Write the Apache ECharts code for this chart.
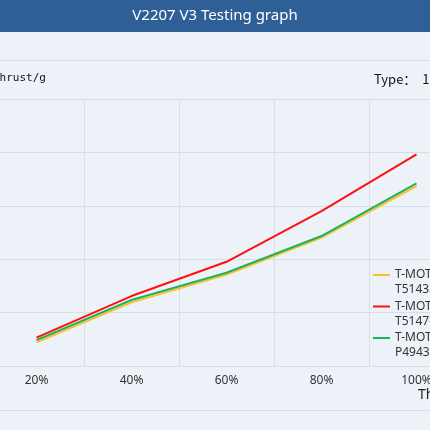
<!DOCTYPE html>
<html>
<head>
<meta charset="utf-8">
<script src="https://cdn.jsdelivr.net/npm/echarts@6/dist/echarts.min.js"></script>
<style>
html,body{margin:0;padding:0;width:430px;height:430px;overflow:hidden;background:#edf1f8;}
#wrap{position:relative;width:430px;height:430px;overflow:hidden;}
#chart{position:absolute;left:-50px;top:0;width:600px;height:430px;}
</style>
</head>
<body>
<div id="wrap"><div id="chart"></div></div>
<script>
var throttle = ['20%', '40%', '60%', '80%', '100%'];
var seriesNames = [
  'T-MOTOR V2207 V3 KV1750\nT5143S-3',
  'T-MOTOR V2207 V3 KV1750\nT5147-3',
  'T-MOTOR V2207 V3 KV1750\nP49436'
];
var thrustT5143S = [222, 596, 856, 1203, 1685];
var thrustT5147 = [265, 655, 976, 1451, 1982];
var thrustP49436 = [243, 618, 873, 1217, 1710];
var yTicks = [0, 500, 1000, 1500, 2000, 2500];

var OFF = 50;
var gridColor = '#d9dde5';
var chart = echarts.init(document.getElementById('chart'));
chart.setOption({
  backgroundColor: '#edf1f8',
  animation: false,
  graphic: [
    {type: 'rect', shape: {x: 0, y: 0, width: 600, height: 32}, style: {fill: '#2f5f97'}, silent: true},
    {type: 'text', x: 215 + OFF, y: 16, style: {text: 'V2207 V3 Testing graph', fill: '#ffffff', font: '15px "Noto Sans", sans-serif', align: 'center', verticalAlign: 'middle'}},
    {type: 'line', shape: {x1: 0, y1: 60.5, x2: 600, y2: 60.5}, style: {stroke: gridColor, lineWidth: 1}, silent: true},
    {type: 'line', shape: {x1: 0, y1: 410.5, x2: 600, y2: 410.5}, style: {stroke: gridColor, lineWidth: 1}, silent: true},
    {type: 'text', x: -7 + OFF, y: 78, style: {text: 'Thrust/g', fill: '#111', font: '11px "DejaVu Sans Mono", monospace', align: 'left', verticalAlign: 'middle'}},
    {type: 'text', x: 374 + OFF, y: 79, style: {text: 'Type\uff1a  1', fill: '#111', font: '13px "Noto Sans CJK SC", sans-serif', align: 'left', verticalAlign: 'middle'}},
    {type: 'text', x: 418 + OFF, y: 395, style: {text: 'Throttle', fill: '#222', font: '14px "Noto Sans", sans-serif', align: 'left', verticalAlign: 'middle'}}
  ],
  grid: {left: 39, right: 86, top: 99, bottom: 64, containLabel: false},
  legend: {
    orient: 'vertical',
    left: 423,
    top: 252.5,
    padding: 0,
    itemWidth: 17,
    itemHeight: 14,
    itemGap: -13.5,
    icon: 'path://M0,6L17,6L17,8L0,8Z',
    formatter: function (name) { return '\n' + name; },
    textStyle: {fontSize: 12, color: '#333', lineHeight: 15, fontFamily: '"Noto Sans", sans-serif'},
    data: seriesNames
  },
  xAxis: {
    type: 'category',
    data: throttle,
    boundaryGap: true,
    axisTick: {show: false},
    axisLine: {lineStyle: {color: gridColor, width: 1}},
    axisLabel: {color: '#333', fontSize: 12, margin: 9, fontFamily: '"Noto Sans", sans-serif'},
    splitLine: {show: true, interval: 0, lineStyle: {color: gridColor, width: 1}}
  },
  yAxis: {
    type: 'value',
    min: yTicks[0],
    max: yTicks[yTicks.length - 1],
    interval: yTicks[1] - yTicks[0],
    axisLine: {show: false},
    axisTick: {show: false},
    axisLabel: {show: false},
    splitLine: {lineStyle: {color: gridColor, width: 1}}
  },
  series: [
    {name: seriesNames[0], type: 'line', data: thrustT5143S, symbol: 'none', lineStyle: {width: 2, color: '#f7c12d'}, itemStyle: {color: '#f7c12d'}},
    {name: seriesNames[1], type: 'line', data: thrustT5147, symbol: 'none', lineStyle: {width: 2, color: '#ff1010'}, itemStyle: {color: '#ff1010'}},
    {name: seriesNames[2], type: 'line', data: thrustP49436, symbol: 'none', lineStyle: {width: 2, color: '#1db25a'}, itemStyle: {color: '#1db25a'}}
  ]
});
</script>
</body>
</html>
